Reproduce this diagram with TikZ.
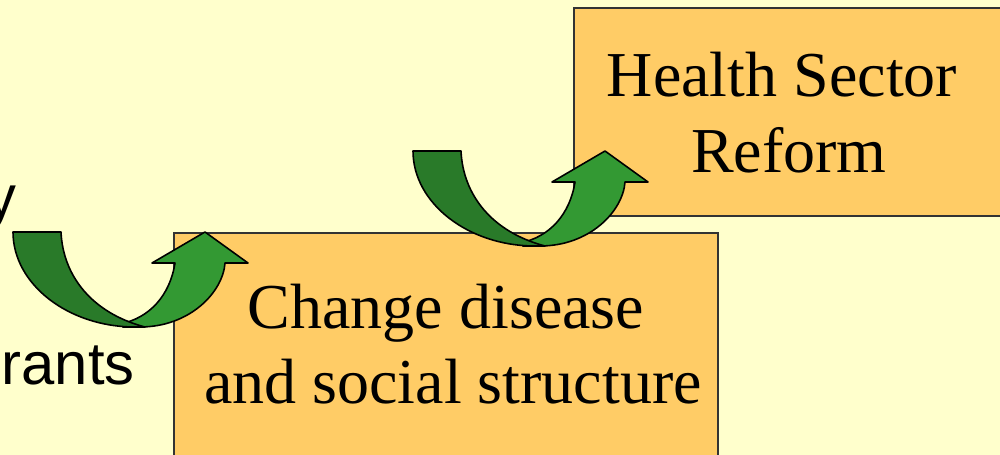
\documentclass[tikz,border=0pt]{standalone}
\usepackage{fontspec}
\setmainfont{Liberation Serif}
\newfontfamily\sidefont{Liberation Sans}
\definecolor{bgyellow}{HTML}{FFFFCC}
\definecolor{boxorange}{HTML}{FFCC66}
\definecolor{darkgreen}{HTML}{297A29}
\definecolor{lightgreen}{HTML}{339933}
\newcommand{\uturnarrow}[2]{%
  \begin{scope}[shift={(#1,#2)}]
    \filldraw[arrowline, fill=lightgreen]
      (123,327) -- (140,327) .. controls (190,327) and (223,292) .. (225,263)
      -- (248,263) -- (205,232) -- (152,263) -- (175,263)
      .. controls (170,295) and (150,318) .. (120,324) -- cycle;
    \filldraw[arrowline, fill=darkgreen]
      (13,232) -- (61,232) .. controls (63,276) and (92,313) .. (145,327)
      -- (135,327) .. controls (68,327) and (13,284) .. (13,232) -- cycle;
  \end{scope}}
\tikzset{
  box/.style={draw=black!80, line width=0.5pt, fill=boxorange, anchor=north west, inner sep=0pt},
  txt/.style={anchor=base, inner sep=0pt, font=\fontsize{18.2}{21.6}\selectfont},
  side/.style={inner sep=0pt, font=\sidefont\fontsize{17}{20}\selectfont},
  arrowline/.style={draw=black, line width=0.45pt, line join=round}
}
\begin{document}
\begin{tikzpicture}[x=0.01cm, y=-0.01cm]
  \fill[bgyellow] (0,0) rectangle (1000,455);
  \useasboundingbox (0,0) rectangle (1000,455);
  \begin{scope}
    \clip (0,0) rectangle (1000,455);
    \node[box, minimum width=4.40cm, minimum height=2.08cm] (hsr) at (573,7) {};
    \node[box, minimum width=5.44cm, minimum height=2.40cm] (cds) at (173,232) {};
    \node[txt] (hsr1) at (782,97) {Health Sector};
    \node[txt] (hsr2) at (789,173) {Reform};
    \node[txt] (cds1) at (446,329) {Change disease};
    \node[txt] (cds2) at (453,404) {and social structure};
    \node[side, anchor=base east] (l1) at (17,218) {y};
    \node[side, anchor=base west] (l2) at (1,385) {rants};
    \uturnarrow{0}{0}
    \uturnarrow{400}{-81}
  \end{scope}
\end{tikzpicture}
\end{document}
